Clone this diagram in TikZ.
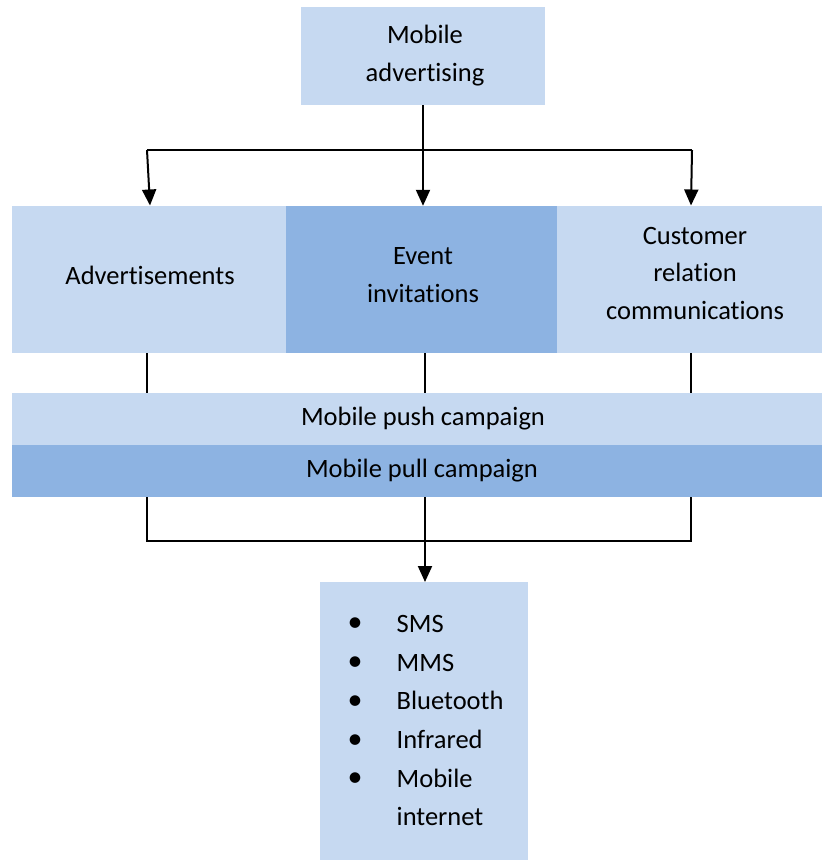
\documentclass[tikz,border=0pt]{standalone}
\usepackage{fontspec}
\setmainfont[Ligatures={NoCommon}]{Carlito}
\usetikzlibrary{arrows.meta}
\definecolor{lightblue}{RGB}{198,217,241}
\definecolor{midblue}{RGB}{141,179,226}
\newcommand{\itembullet}{\makebox[49pt][l]{\raisebox{0.5pt}{\fontsize{30}{30}\selectfont\textbullet}}}
\tikzset{
  box/.style={fill=#1, draw=none, inner sep=0pt},
  label/.style={font=\fontsize{26.5}{37.5}\selectfont, align=center, inner sep=0pt},
  link/.style={line width=2pt, draw=black},
  arr/.style={link, -{Triangle[width=14pt,length=16pt]}},
}
\begin{document}
\begin{tikzpicture}[x=1pt,y=-1pt]
\useasboundingbox (0,0) rectangle (823,861);

% top box
\node[box=lightblue, minimum width=244pt, minimum height=98pt] (top) at (423,56) {};
\node[label] (topt) at (425,55.5) {Mobile\\advertising};

% three categories
\node[box=lightblue, minimum width=274pt, minimum height=147pt] (adv) at (149,279.5) {};
\node[box=midblue, minimum width=271pt, minimum height=147pt] (evt) at (421.5,279.5) {};
\node[box=lightblue, minimum width=265pt, minimum height=147pt] (crm) at (689.5,279.5) {};
\node[label] (advt) at (150,275.5) {Advertisements};
\node[label] (evtt) at (423,275) {Event\\invitations};
\node[label] (crmt) at (695,273) {Customer\\relation\\communications};

% campaign bars
\node[box=lightblue, minimum width=810pt, minimum height=52pt] (push) at (417,419) {};
\node[box=midblue, minimum width=810pt, minimum height=52pt] (pull) at (417,471) {};
\node[label] (pusht) at (423,419) {Mobile push campaign};
\node[label] (pullt) at (422,470.5) {Mobile pull campaign};

% channel list
\node[box=lightblue, minimum width=208pt, minimum height=278pt] (chan) at (424,721) {};
\node[anchor=north west, inner sep=0pt, font=\fontsize{26.5}{38.7}\selectfont, align=left] (list) at (347.5,615)
  {\itembullet SMS\\
   \itembullet MMS\\
   \itembullet Bluetooth\\
   \itembullet Infrared\\
   \itembullet Mobile\\
   \makebox[49pt][l]{}internet};

% branching from the top box
\coordinate (jL) at (147,150);
\coordinate (jR) at (692,150);
\draw[link] (jL) -- (jR);
\draw[arr] (top.south) -- (top.south |- evt.north);
\draw[arr] (jL) -- (150,205.5);
\draw[arr] (jR) -- (691,205.5);

% connectors between the rows
\draw[link] (147,353) -- (147,393);
\draw[link] (425,353) -- (425,393);
\draw[link] (691,353) -- (691,393);

% merging towards the channel list
\coordinate (mL) at (147,541);
\coordinate (mR) at (691,541);
\draw[link] (147,497) -- (mL) -- (mR) -- (691,497);
\draw[arr] (425,497) -- (425,582);
\end{tikzpicture}
\end{document}
